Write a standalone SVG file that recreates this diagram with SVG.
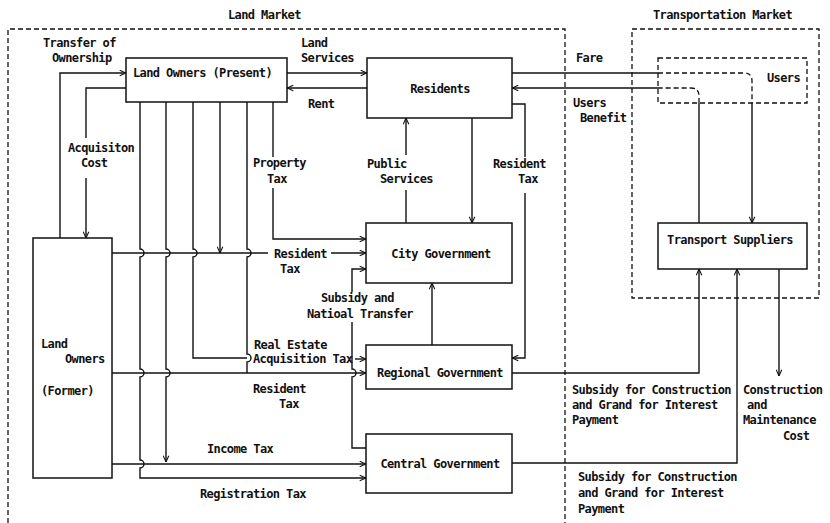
<svg xmlns="http://www.w3.org/2000/svg" width="830" height="523" viewBox="0 0 830 523">
<style>
.t{font-family:"DejaVu Sans Mono","Liberation Mono",monospace;font-weight:bold;font-size:12px;letter-spacing:-0.6px;fill:#111}
.m{text-anchor:middle}
.box{fill:#fff;stroke:#111;stroke-width:1.5}
.dash{fill:none;stroke:#111;stroke-width:1.3;stroke-dasharray:5 3}
.ln{fill:none;stroke:#111;stroke-width:1.4}
.a{marker-end:url(#ah)}
</style>
<defs>
<marker id="ah" viewBox="0 0 10 10" refX="10" refY="5" markerWidth="7" markerHeight="7" markerUnits="userSpaceOnUse" orient="auto">
<path d="M1,1 L10,5 L1,9" fill="none" stroke="#111" stroke-width="1.5"/>
</marker>
</defs>

<g id="markets">
<path class="dash" d="M8,523 V29 H565 V523"/>
<rect class="dash" x="632" y="29" width="187" height="269"/>
<text class="t" x="228" y="19">Land Market</text>
<text class="t" x="653" y="19">Transportation Market</text>
</g>

<g id="connectors">
<!-- transfer of ownership -->
<path class="ln a" d="M60,238 V73 H126"/>
<!-- acquisition cost -->
<path class="ln" d="M126,88 H86 V138"/>
<path class="ln a" d="M86,178 V238"/>
<!-- land services / rent -->
<path class="ln a" d="M287,73 H367"/>
<path class="ln a" d="M367,88 H287"/>
<!-- verticals from present owners -->
<path class="ln a" d="M140,102 V249 a4,4 0 0 1 0,8 V369 a4,4 0 0 1 0,8 V460 a4,4 0 0 1 0,8 V478 H366"/>
<path class="ln a" d="M166,102 V249 a4,4 0 0 1 0,8 V369 a4,4 0 0 1 0,8 V462"/>
<path class="ln" d="M193,102 V249 a4,4 0 0 1 0,8 V358 H247"/>
<path class="ln a" d="M220,102 V253"/>
<path class="ln" d="M247,102 V249 a4,4 0 0 1 0,8 V354 a4,4 0 0 1 0,8 V373"/>
<path class="ln" d="M273,102 V157"/>
<path class="ln a" d="M273,188 V239 H366"/>
<!-- resident tax to city -->
<path class="ln" d="M112,253 H268"/>
<path class="ln a" d="M331,253 H366"/>
<!-- resident tax to regional -->
<path class="ln a" d="M112,373 H366"/>
<!-- real estate acquisition tax arrow -->
<path class="ln a" d="M355,359 H366"/>
<!-- income tax -->
<path class="ln a" d="M112,464 H366"/>
<!-- subsidy central to city -->
<path class="ln" d="M366,448 H352 V377 a4,4 0 0 0 0,-8 V322"/>
<path class="ln a" d="M352,292 V269 H366"/>
<!-- subsidy regional to city -->
<path class="ln a" d="M432,345 V283"/>
<!-- residents to city -->
<path class="ln a" d="M472,118 V223"/>
<!-- public services -->
<path class="ln" d="M406,223 V190"/>
<path class="ln a" d="M406,155 V118"/>
<!-- resident tax residents to regional -->
<path class="ln" d="M512,104 H525 V157"/>
<path class="ln a" d="M525,193 V358 H512"/>
<!-- fare -->
<path class="ln" d="M512,73 H658"/>
<path class="dash" d="M658,73 H744 Q752,73 752,81 V103"/>
<path class="ln a" d="M752,103 V223"/>
<!-- users benefit -->
<path class="ln" d="M699,223 V103"/>
<path class="dash" d="M699,103 V96 Q699,88 691,88 H658"/>
<path class="ln a" d="M658,88 H512"/>
<!-- subsidies to transport -->
<path class="ln a" d="M512,373 H699 V269"/>
<path class="ln a" d="M512,463 H737 V269"/>
<!-- construction cost -->
<path class="ln a" d="M779,269 V376"/>
</g>

<g id="present"><rect class="box" x="126" y="58" width="161" height="44"/><text class="t" x="133" y="77">Land Owners (Present)</text></g>
<g id="residents"><rect class="box" x="367" y="58" width="145" height="60"/><text class="t m" x="440" y="93">Residents</text></g>
<g id="city"><rect class="box" x="366" y="223" width="146" height="60"/><text class="t m" x="441" y="258">City Government</text></g>
<g id="regional"><rect class="box" x="366" y="345" width="146" height="44"/><text class="t m" x="440" y="377">Regional Government</text></g>
<g id="central"><rect class="box" x="366" y="434" width="146" height="59"/><text class="t m" x="440" y="468">Central Government</text></g>
<g id="former"><rect class="box" x="33" y="238" width="79" height="240"/><text class="t" x="41" y="348">Land</text><text class="t" x="65" y="363">Owners</text><text class="t" x="41" y="395">(Former)</text></g>
<g id="users"><rect class="dash" x="658" y="58" width="149" height="45"/><text class="t" x="767" y="82">Users</text></g>
<g id="transport"><rect class="box" x="658" y="223" width="149" height="46"/><text class="t m" x="730" y="244">Transport Suppliers</text></g>

<g id="labels">
<text class="t" x="43" y="47">Transfer of</text>
<text class="t" x="52" y="62">Ownership</text>
<text class="t" x="301" y="47">Land</text>
<text class="t" x="301" y="62">Services</text>
<text class="t" x="308" y="108">Rent</text>
<text class="t" x="68" y="152">Acquisiton</text>
<text class="t" x="81" y="167">Cost</text>
<text class="t" x="253" y="167">Property</text>
<text class="t" x="267" y="183">Tax</text>
<text class="t" x="367" y="168">Public</text>
<text class="t" x="380" y="183">Services</text>
<text class="t" x="493" y="168">Resident</text>
<text class="t" x="518" y="183">Tax</text>
<text class="t" x="576" y="62">Fare</text>
<text class="t" x="573" y="107">Users</text>
<text class="t" x="580" y="122">Benefit</text>
<text class="t" x="274" y="258">Resident</text>
<text class="t" x="280" y="273">Tax</text>
<text class="t" x="321" y="302">Subsidy and</text>
<text class="t" x="307" y="318">Natioal Transfer</text>
<text class="t" x="254" y="349">Real Estate</text>
<text class="t" x="253" y="363">Acquisition Tax</text>
<text class="t" x="253" y="393">Resident</text>
<text class="t" x="279" y="408">Tax</text>
<text class="t" x="207" y="453">Income Tax</text>
<text class="t" x="200" y="498">Registration Tax</text>
<text class="t" x="572" y="394">Subsidy for Construction</text>
<text class="t" x="572" y="409">and Grand for Interest</text>
<text class="t" x="572" y="424">Payment</text>
<text class="t" x="578" y="481">Subsidy for Construction</text>
<text class="t" x="578" y="497">and Grand for Interest</text>
<text class="t" x="578" y="513">Payment</text>
<text class="t" x="743" y="394">Construction</text>
<text class="t" x="747" y="409">and</text>
<text class="t" x="743" y="424">Maintenance</text>
<text class="t" x="783" y="440">Cost</text>
</g>
</svg>
